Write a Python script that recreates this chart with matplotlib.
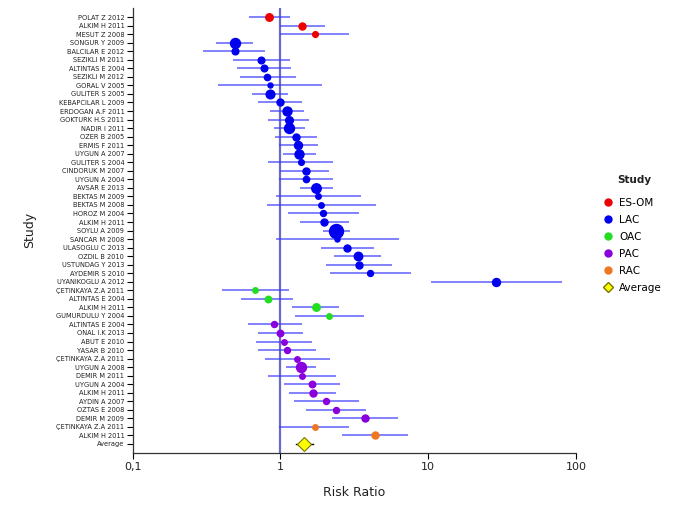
import matplotlib
matplotlib.use("Agg")
import matplotlib.pyplot as plt
from matplotlib.lines import Line2D

studies = ["POLAT Z 2012", "ALKIM H 2011", "MESUT Z 2008", "SONGUR Y 2009", "BALCILAR E 2012",
           "SEZIKLI M 2011", "ALTINTAS E 2004", "SEZIKLI M 2012", "GORAL V 2005", "GULITER S 2005",
           "KEBAPCILAR L 2009", "ERDOGAN A.F 2011", "GOKTURK H.S 2011", "NADIR I 2011", "OZER B 2005",
           "ERMIS F 2011", "UYGUN A 2007", "GULITER S 2004", "CINDORUK M 2007", "UYGUN A 2004",
           "AVSAR E 2013", "BEKTAS M 2009", "BEKTAS M 2008", "HOROZ M 2004", "ALKIM H 2011",
           "SOYLU A 2009", "SANCAR M 2008", "ULASOGLU C 2013", "OZDIL B 2010", "USTUNDAG Y 2013",
           "AYDEMIR S 2010", "UYANIKOGLU A 2012", "ÇETINKAYA Z.A 2011", "ALTINTAS E 2004", "ALKIM H 2011",
           "GUMURDULU Y 2004", "ALTINTAS E 2004", "ONAL I.K 2013", "ABUT E 2010", "YASAR B 2010",
           "ÇETINKAYA Z.A 2011", "UYGUN A 2008", "DEMIR M 2011", "UYGUN A 2004", "ALKIM H 2011",
           "AYDIN A 2007", "OZTAS E 2008", "DEMIR M 2009", "ÇETINKAYA Z.A 2011", "ALKIM H 2011"]

groups = (["ES-OM"] * 3 + ["LAC"] * 29 + ["OAC"] * 4 + ["PAC"] * 12 + ["RAC"] * 2)

rr = [0.83, 1.40, 1.70, 0.49, 0.49, 0.74, 0.77, 0.81, 0.85, 0.85,
      1.00, 1.10, 1.14, 1.15, 1.27, 1.32, 1.34, 1.37, 1.48, 1.48,
      1.74, 1.79, 1.88, 1.94, 1.97, 2.39, 2.42, 2.84, 3.35, 3.39,
      4.04, 28.8, 0.67, 0.82, 1.74, 2.12, 0.91, 1.00, 1.05, 1.11,
      1.29, 1.38, 1.40, 1.63, 1.65, 2.03, 2.36, 3.72, 1.70, 4.33]

lower = [0.61, 0.99, 0.99, 0.365, 0.30, 0.475, 0.51, 0.53, 0.38, 0.64,
         0.71, 0.85, 0.82, 0.91, 0.92, 0.98, 1.04, 0.82, 1.00, 0.97,
         1.35, 0.93, 0.81, 1.12, 1.36, 1.94, 0.94, 1.87, 2.30, 2.03,
         2.17, 10.4, 0.40, 0.54, 1.20, 1.25, 0.60, 0.70, 0.68, 0.71,
         0.78, 1.09, 0.82, 1.06, 1.14, 1.24, 1.48, 2.24, 0.98, 2.60]

upper = [1.16, 1.99, 2.89, 0.65, 0.79, 1.16, 1.17, 1.28, 1.90, 1.13,
         1.40, 1.44, 1.55, 1.46, 1.78, 1.80, 1.75, 2.27, 2.12, 2.27,
         2.27, 3.50, 4.42, 3.39, 2.89, 2.94, 6.32, 4.28, 4.80, 5.67,
         7.59, 81.0, 1.14, 1.22, 2.49, 3.65, 1.39, 1.42, 1.64, 1.73,
         2.15, 1.75, 2.38, 2.51, 2.38, 3.41, 3.78, 6.26, 2.89, 7.28]

weights = [7.5, 7, 5.7, 10, 6.7, 6.7, 6.7, 6.3, 5, 8.7,
           7, 9, 7.7, 10, 7, 8, 9, 5.7, 7, 6.3,
           9.5, 5.5, 5.5, 6, 7, 14, 5, 7, 8.5, 7,
           6, 8, 5.5, 6.5, 7.5, 5.5, 6, 6.5, 5.5, 6,
           5.5, 10, 5.5, 6.5, 7, 6, 6, 7, 5.5, 7]

avg_label = "Average"
avg_rr = 1.45
avg_lower = 1.27
avg_upper = 1.67

group_names = ["ES-OM", "LAC", "OAC", "PAC", "RAC"]
group_colors = {"ES-OM": "#ee0000", "LAC": "#0000ee", "OAC": "#22dd22",
                "PAC": "#8a00dd", "RAC": "#ee7722"}

fig = plt.figure(figsize=(6.94, 5.07), dpi=100)
ax = fig.add_axes([0.1912, 0.1071, 0.6388, 0.8777])

ax.axvline(1, color="#6a6ac8", lw=1.6, zorder=1)

for i in range(len(studies)):
    ax.plot([lower[i], upper[i]], [i, i], color="#3c3cff", lw=1.2, alpha=0.75, zorder=2,
            solid_capstyle="butt")
    ax.plot(rr[i], i, marker="o", ms=weights[i] * 0.72, color=group_colors[groups[i]],
            mec=group_colors[groups[i]], zorder=3, linestyle="none")

n = len(studies)
ax.plot([avg_lower, avg_upper], [n, n], color="black", lw=1.0, zorder=2)
ax.plot(avg_rr, n, marker="D", ms=7, color="#ffff00", mec="#777700", mew=0.8, zorder=3,
        linestyle="none")

ax.set_xscale("log")
ax.set_xlim(0.1, 100)
ax.set_ylim(n + 1.02, -1.1)

ax.set_yticks(list(range(n + 1)))
ax.set_yticklabels(studies + [avg_label], fontsize=4.8, color="#222222")
ax.set_xticks([0.1, 1, 10, 100])
ax.set_xticklabels(["0,1", "1", "10", "100"], fontsize=8, color="#222222")
ax.minorticks_off()
ax.tick_params(axis="y", length=4, width=0.8, pad=2)
ax.tick_params(axis="x", length=4, width=0.8, pad=3)

for s in ["top", "right"]:
    ax.spines[s].set_visible(False)
for s in ["left", "bottom"]:
    ax.spines[s].set_color("#333333")
    ax.spines[s].set_linewidth(0.9)

ax.set_xlabel("Risk Ratio", fontsize=9, color="#222222", labelpad=10)
ax.set_ylabel("Study", fontsize=9, color="#222222")
ax.yaxis.set_label_coords(-0.218, 0.5)

fig.text(617 / 694, 1 - 180 / 507, "Study", fontsize=7.5, fontweight="bold",
         color="#222222", ha="left", va="center")

handles = [Line2D([], [], marker="o", linestyle="none", ms=5, color=group_colors[g],
                  mec=group_colors[g], label=g) for g in group_names]
handles.append(Line2D([], [], marker="D", linestyle="none", ms=5.5, color="#ffff00",
                      mec="#777700", label="Average"))
leg = fig.legend(handles=handles, loc="upper left",
                 bbox_to_anchor=(0.863, 1 - 195 / 507), frameon=False, fontsize=7.5,
                 handletextpad=0.45, labelspacing=0.67, handlelength=1.2,
                 borderaxespad=0, borderpad=0.3)

fig.savefig("out.png", dpi=100)
